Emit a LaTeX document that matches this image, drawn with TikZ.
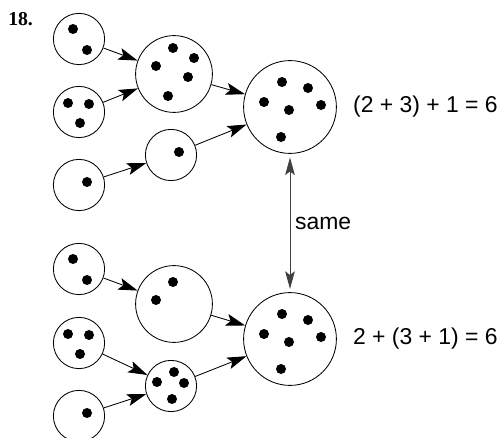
\documentclass[tikz,border=0pt]{standalone}
\usepackage{fontspec}
\setmainfont{Liberation Serif}
\setsansfont{Liberation Sans}
\usetikzlibrary{
  arrows.meta,
  positioning,
  calc,
}

\begin{document}
\begin{tikzpicture}[
    x=0.025cm, y=-0.025cm,
    S/.style={circle, draw, line width=0.6pt, minimum size=1.28cm, inner sep=0pt},
    M/.style={circle, draw, line width=0.6pt, minimum size=1.92cm, inner sep=0pt},
    B/.style={circle, draw, line width=0.6pt, minimum size=2.32cm, inner sep=0pt},
    link/.style={-{Stealth[length=0.48cm, width=0.3cm, inset=0.1cm]}, line width=0.6pt},
    sum/.style={font=\sffamily\fontsize{16.3}{18}\selectfont, inner sep=0pt},
  ]
  \useasboundingbox (0,0) rectangle (501,438);

  \node[font=\bfseries\fontsize{14}{16}\selectfont, anchor=base west, inner sep=0pt]
    (num) at (8,26) {18.};

  % left column
  \foreach \n/\y in {a1/39, a2/112, a3/185, d1/269, d2/343, d3/416}
    \node[S] (\n) at (79,\y) {};

  % middle column
  \node[M] (b1) at (174,74) {};
  \node[S] (b2) at (171,155) {};
  \node[M] (e1) at (174,304) {};
  \node[S] (e2) at (171,386) {};

  % right column
  \node[B] (c1) at (290,107) {};
  \node[B] (c2) at (290,339) {};

  % dots
  \foreach \n in {a1, d1}
    \foreach \dx/\dy in {-6/-10, 8/11}
      \fill ($(\n)+(\dx,\dy)$) circle[radius=0.125cm];
  \foreach \n in {a2, d2}
    \foreach \dx/\dy in {-11/-9, 10/-8, 1/11}
      \fill ($(\n)+(\dx,\dy)$) circle[radius=0.125cm];
  \foreach \n in {a3, d3, b2}
    \fill ($(\n)+(8,-3)$) circle[radius=0.125cm];
  \foreach \dx/\dy in {-1/-26, 20/-16, -18/-8, 14/3, -6/22}
    \fill ($(b1)+(\dx,\dy)$) circle[radius=0.125cm];
  \foreach \dx/\dy in {-1/-22, -18/-4}
    \fill ($(e1)+(\dx,\dy)$) circle[radius=0.125cm];
  \foreach \dx/\dy in {3/-14, -14/-4, 13/-3, 1/13}
    \fill ($(e2)+(\dx,\dy)$) circle[radius=0.125cm];
  \foreach \n in {c1, c2}
    \foreach \dx/\dy in {-8/-25, 18/-19, -26/-5, -1/3, 31/-2, -9/30}
      \fill ($(\n)+(\dx,\dy)$) circle[radius=0.125cm];

  % arrows
  \draw[link] (a1)--(b1);
  \draw[link] (a2)--(b1);
  \draw[link] (a3)--(b2);
  \draw[link] (b1)--(c1);
  \draw[link] (b2)--(c1);
  \draw[link] (d1)--(e1);
  \draw[link] (d2)--(e2);
  \draw[link] (d3)--(e2);
  \draw[link] (e1)--(c2);
  \draw[link] (e2)--(c2);

  \draw[{Stealth[length=0.44cm, width=0.24cm, inset=0.09cm]}-{Stealth[length=0.44cm, width=0.24cm, inset=0.09cm]},
        draw=black!75, line width=0.6pt, shorten <=0.09cm, shorten >=0.08cm]
    (c1.south) -- node[right, font=\sffamily\fontsize{16.3}{18}\selectfont] (same) {same}
    (c2.north);

  % sums
  \node[sum, right=0.4cm of c1] (top) {(2 + 3) + 1 = 6};
  \node[sum, right=0.4cm of c2] (bot) {2 + (3 + 1) = 6};
\end{tikzpicture}
\end{document}
